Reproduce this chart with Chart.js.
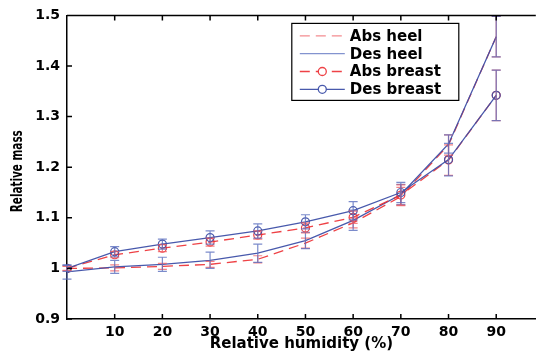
<!DOCTYPE html>
<html>
<head>
<meta charset="utf-8">
<script src="https://cdn.jsdelivr.net/npm/chart.js@4.4.1/dist/chart.umd.min.js"></script>
<style>
  html, body { margin: 0; padding: 0; background: #fff; overflow: hidden; }
  #wrap { width: 541px; height: 355px; position: relative; }
</style>
</head>
<body>
<div id="wrap"><canvas id="masse"></canvas></div>
<script>
// humidité relative (%) et masses relatives moyennes, avec demi-largeur des barres d'erreur
const humidite = [0, 10, 20, 30, 40, 50, 60, 70, 80, 90];

const absHeel      = [1.000, 1.001, 1.004, 1.008, 1.018, 1.050, 1.090, 1.142, 1.244, 1.458];
const absHeelErr   = [0.005, 0.006, 0.006, 0.006, 0.007, 0.010, 0.010, 0.018, 0.020, 0.040];
const desHeel      = [0.993, 1.003, 1.008, 1.016, 1.030, 1.055, 1.095, 1.146, 1.246, 1.458];
const desHeelErr   = [0.014, 0.013, 0.014, 0.016, 0.018, 0.016, 0.020, 0.020, 0.018, 0.040];
const absBreast    = [1.000, 1.027, 1.040, 1.052, 1.066, 1.080, 1.101, 1.145, 1.214, 1.342];
const absBreastErr = [0.004, 0.006, 0.007, 0.008, 0.008, 0.010, 0.012, 0.020, 0.030, 0.050];
const desBreast    = [1.000, 1.033, 1.048, 1.061, 1.074, 1.092, 1.114, 1.150, 1.215, 1.342];
const desBreastErr = [0.006, 0.010, 0.010, 0.013, 0.014, 0.014, 0.018, 0.020, 0.032, 0.050];

const yTicks = [0.9, 1.0, 1.1, 1.2, 1.3, 1.4, 1.5];
const xTicks = [10, 20, 30, 40, 50, 60, 70, 80, 90];

const ROUGE = "rgba(236,45,50,0.9)";
const ROUGE_CLAIR = "rgba(240,90,95,0.75)";
const BLEU = "rgba(62,80,168,0.95)";
const BLEU_CLAIR = "rgba(90,110,190,0.8)";
const POLICE = "'DejaVu Sans', 'Liberation Sans', sans-serif";
const TITRE_Y = "Relative mass";

const points = (vals) => humidite.map((h, i) => ({ x: h, y: vals[i] }));

// une série = ligne + barres d'erreur (dessinées par le plugin plus bas)
function serie(label, vals, errs, couleur, errCouleur, pointilles, cercles, ordre) {
  return {
    label: label,
    data: points(vals),
    erreurs: errs,
    errCouleur: errCouleur,
    borderColor: couleur,
    borderWidth: 1.3,
    borderDash: pointilles ? [10, 6] : [],
    pointRadius: cercles ? 4 : 0,
    pointStyle: "circle",
    pointBorderColor: couleur,
    pointBorderWidth: 1.2,
    pointBackgroundColor: "rgba(0,0,0,0)",
    fill: false,
    tension: 0,
    order: ordre
  };
}

// BARRES D'ERREUR
const barresErreur = {
  id: "barresErreur",
  afterDatasetsDraw(chart) {
    const { ctx, scales: { x, y } } = chart;
    chart.data.datasets.forEach((ds) => {
      ctx.save();
      ctx.strokeStyle = ds.errCouleur;
      ctx.lineWidth = 1.2;
      ctx.setLineDash([]);
      ds.data.forEach((pt, j) => {
        const e = ds.erreurs[j];
        const px = x.getPixelForValue(pt.x);
        const haut = y.getPixelForValue(pt.y + e);
        const bas = y.getPixelForValue(pt.y - e);
        ctx.beginPath();
        ctx.moveTo(px, haut); ctx.lineTo(px, bas);
        ctx.moveTo(px - 4.5, haut); ctx.lineTo(px + 4.5, haut);
        ctx.moveTo(px - 4.5, bas); ctx.lineTo(px + 4.5, bas);
        ctx.stroke();
      });
      ctx.restore();
    });
  }
};

// CADRE : bord supérieur + graduations tournées vers l'intérieur + titre Y étroit
const cadre = {
  id: "cadre",
  afterDraw(chart) {
    const { ctx, chartArea: a, scales: { x, y } } = chart;
    ctx.save();
    ctx.strokeStyle = "#000";
    ctx.lineWidth = 1.5;
    ctx.beginPath();
    ctx.moveTo(a.left, a.top); ctx.lineTo(a.right, a.top);
    x.ticks.forEach((t) => {
      const px = x.getPixelForValue(t.value);
      ctx.moveTo(px, a.bottom); ctx.lineTo(px, a.bottom - 5);
      ctx.moveTo(px, a.top); ctx.lineTo(px, a.top + 5);
    });
    y.ticks.forEach((t) => {
      const py = y.getPixelForValue(t.value);
      ctx.moveTo(a.left, py); ctx.lineTo(a.left + 5, py);
    });
    ctx.stroke();

    // titre vertical, police condensée à la main
    ctx.font = "bold 16px " + POLICE;
    const k = 82 / ctx.measureText(TITRE_Y).width;
    ctx.translate(18, (a.top + a.bottom) / 2 + 4);
    ctx.rotate(-Math.PI / 2);
    ctx.scale(k, 1);
    ctx.fillStyle = "#000";
    ctx.textAlign = "center";
    ctx.textBaseline = "middle";
    ctx.fillText(TITRE_Y, 0, 0);
    ctx.restore();
  }
};

// LÉGENDE encadrée en haut à droite
const legende = {
  id: "legende",
  afterDraw(chart) {
    const { ctx, chartArea: a } = chart;
    const w = 167, h = 77;
    const x0 = a.right - 77 - w;
    const y0 = a.top + 8;
    ctx.save();
    ctx.fillStyle = "#fff";
    ctx.fillRect(x0, y0, w, h);
    ctx.strokeStyle = "#000";
    ctx.lineWidth = 1.2;
    ctx.strokeRect(x0, y0, w, h);
    chart.data.datasets.forEach((ds, k) => {
      const cy = y0 + 12.5 + k * 17.8;
      ctx.strokeStyle = ds.legendeCouleur || ds.borderColor;
      ctx.lineWidth = 1.3;
      ctx.setLineDash(ds.borderDash);
      ctx.beginPath();
      ctx.moveTo(x0 + 8, cy); ctx.lineTo(x0 + 53, cy);
      ctx.stroke();
      ctx.setLineDash([]);
      if (ds.pointRadius > 0) {
        ctx.beginPath();
        ctx.arc(x0 + 30.5, cy, 4, 0, Math.PI * 2);
        ctx.fillStyle = "#fff";
        ctx.fill();
        ctx.stroke();
      }
      ctx.fillStyle = "#000";
      ctx.font = "bold 15px " + POLICE;
      ctx.textBaseline = "middle";
      ctx.textAlign = "left";
      ctx.fillText(ds.label, x0 + 58, cy + 1);
    });
    ctx.restore();
  }
};

const ds0 = serie("Abs heel", absHeel, absHeelErr, ROUGE, ROUGE_CLAIR, true, false, 4);
ds0.legendeCouleur = "rgba(240,110,115,0.8)";
const ds1 = serie("Des heel", desHeel, desHeelErr, BLEU, BLEU_CLAIR, false, false, 3);
ds1.legendeCouleur = "rgba(100,120,195,0.8)";
const ds2 = serie("Abs breast", absBreast, absBreastErr, ROUGE, ROUGE_CLAIR, true, true, 2);
const ds3 = serie("Des breast", desBreast, desBreastErr, BLEU, BLEU_CLAIR, false, true, 1);

new Chart(document.getElementById("masse"), {
  type: "line",
  data: { datasets: [ds0, ds1, ds2, ds3] },
  options: {
    responsive: true,
    maintainAspectRatio: false,
    animation: false,
    layout: { padding: { top: 9, right: 0, left: 0, bottom: 0 } },
    plugins: {
      legend: { display: false },
      tooltip: { enabled: false }
    },
    scales: {
      x: {
        type: "linear",
        min: 0,
        max: 98.3,
        afterBuildTicks: (s) => { s.ticks = xTicks.map((v) => ({ value: v })); },
        afterFit: (s) => { s.height = 36; },
        grid: { drawOnChartArea: false, drawTicks: false },
        border: { color: "#000", width: 1.5 },
        ticks: {
          padding: 5,
          color: "#000",
          font: { family: POLICE, size: 14, weight: "bold" }
        },
        title: {
          display: true,
          text: "Relative humidity (%)",
          color: "#000",
          padding: { top: 0, bottom: 2 },
          font: { family: POLICE, size: 15, weight: "bold" }
        }
      },
      y: {
        min: 0.9,
        max: 1.5,
        afterBuildTicks: (s) => { s.ticks = yTicks.map((v) => ({ value: v })); },
        afterFit: (s) => { s.width = 67; },
        grid: { drawOnChartArea: false, drawTicks: false },
        border: { color: "#000", width: 1.5 },
        ticks: {
          padding: 7,
          color: "#000",
          font: { family: POLICE, size: 14, weight: "bold" },
          callback: (v) => String(Number(v.toFixed(1)))
        }
      }
    }
  },
  plugins: [barresErreur, cadre, legende]
});
</script>
</body>
</html>
